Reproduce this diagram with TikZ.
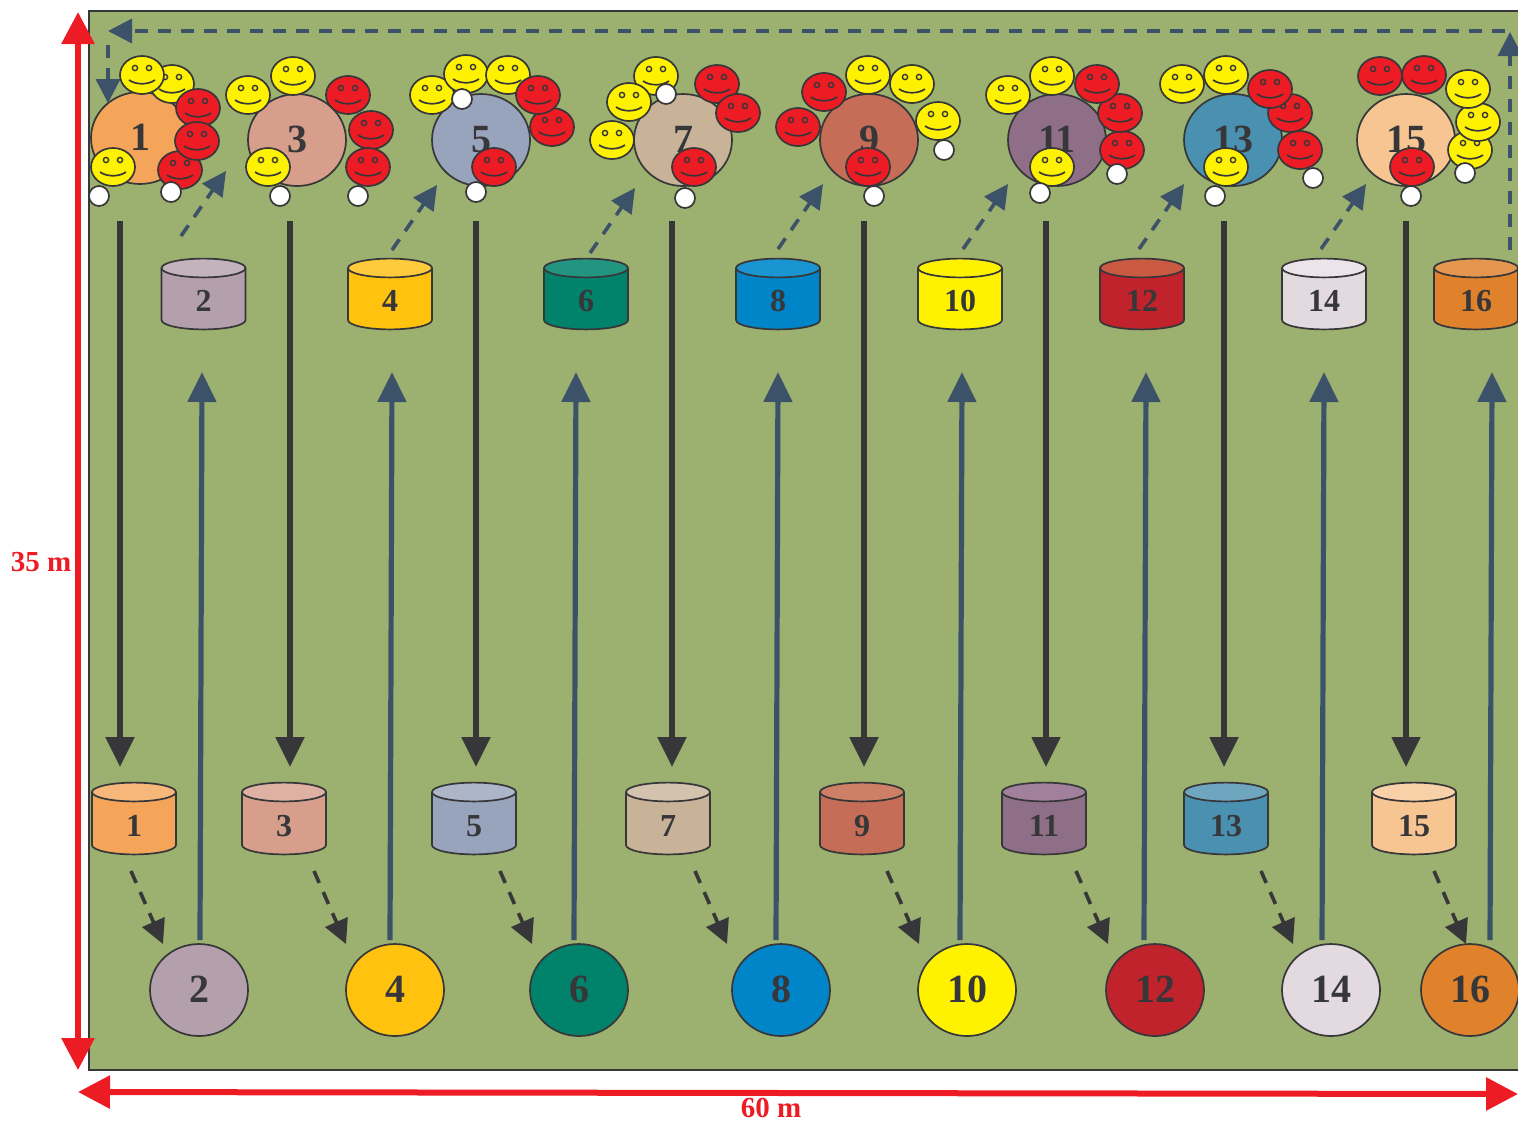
\documentclass[tikz,border=0pt]{standalone}
\usepackage{fontspec}
\setmainfont{Liberation Serif}
\usetikzlibrary{arrows.meta,shapes.geometric}
\definecolor{ink}{HTML}{373739}
\definecolor{slateb}{HTML}{3B5268}
\definecolor{field}{HTML}{9CB070}
\definecolor{redm}{HTML}{ED1C24}
\definecolor{yelf}{HTML}{FFF200}
\definecolor{toneA}{HTML}{F5A55A}
\definecolor{toneB}{HTML}{B3A0AC}
\definecolor{toneC}{HTML}{D69E8B}
\definecolor{toneD}{HTML}{FFC20E}
\definecolor{toneE}{HTML}{98A3BC}
\definecolor{toneF}{HTML}{00826B}
\definecolor{toneG}{HTML}{C8B398}
\definecolor{toneH}{HTML}{0085C8}
\definecolor{toneI}{HTML}{C56D57}
\definecolor{toneJ}{HTML}{FFF200}
\definecolor{toneK}{HTML}{8F6F87}
\definecolor{toneL}{HTML}{C0232C}
\definecolor{toneM}{HTML}{4A90B0}
\definecolor{toneN}{HTML}{E2DADF}
\definecolor{toneO}{HTML}{F6C592}
\definecolor{toneP}{HTML}{E0812B}
\colorlet{lidtoneA}{toneA!80!white}
\colorlet{lidtoneB}{toneB!80!white}
\colorlet{lidtoneC}{toneC!80!white}
\definecolor{lidtoneD}{HTML}{FFCB3C}
\colorlet{lidtoneE}{toneE!80!white}
\definecolor{lidtoneF}{HTML}{229580}
\colorlet{lidtoneG}{toneG!80!white}
\definecolor{lidtoneH}{HTML}{1A95D2}
\definecolor{lidtoneI}{HTML}{CE8066}
\definecolor{lidtoneJ}{HTML}{FFF200}
\definecolor{lidtoneK}{HTML}{A0809A}
\definecolor{lidtoneL}{HTML}{CB5A42}
\colorlet{lidtoneM}{toneM!80!white}
\colorlet{lidtoneN}{toneN!70!white}
\colorlet{lidtoneO}{toneO!80!white}
\definecolor{lidtoneP}{HTML}{E5964E}
\tikzset{
  x=0.5pt,y=-0.5pt,
  outl/.style={draw=ink,line width=0.85pt},
  station/.style={ellipse,outl,inner sep=0pt,minimum width=49pt,minimum height=46pt,text=ink,font=\bfseries\fontsize{20}{20}\selectfont},
  cyltext/.style={inner sep=0pt,text=ink,font=\bfseries\fontsize{16}{16}\selectfont},
  runline/.style={draw=ink,line width=2.6pt,-{Triangle[length=15pt,width=14pt]}},
  backline/.style={draw=slateb,line width=2.6pt,-{Triangle[length=15pt,width=14pt]}},
  dashlink/.style={line width=1.8pt,dash pattern=on 6.5pt off 5pt,-{Triangle[length=12pt,width=12pt]}},
  slatedash/.style={dashlink,draw=slateb},
  inkdash/.style={dashlink,draw=ink},
  dimline/.style={draw=redm,line width=3pt,{Triangle[length=16pt,width=16pt]}-{Triangle[length=16pt,width=16pt]}},
  dimtext/.style={inner sep=0pt,text=redm,font=\bfseries\fontsize{14.5}{14.5}\selectfont},
}
\newcommand{\drumshape}[5]{% name, x, top, bottom, colour
  \fill[fill=#5] (#2-42,#3+9) -- (#2-42,#4-9) arc[start angle=180,end angle=360,x radius=21pt,y radius=4.7pt] -- (#2+42,#3+9) arc[start angle=0,end angle=180,x radius=21pt,y radius=4.7pt] -- cycle;
  \draw[outl] (#2-42,#3+9) -- (#2-42,#4-9) arc[start angle=180,end angle=360,x radius=21pt,y radius=4.7pt] -- (#2+42,#3+9);
  \draw[outl,fill=lid#5] (#2,#3+9) ellipse[x radius=21pt,y radius=4.7pt];
  \coordinate (#1) at (#2,#4-29);
}
\newcommand{\faceat}[3]{%
  \begin{scope}[shift={(#1,#2)}]
    \draw[outl,fill=#3] (0,0) ellipse[x radius=11pt,y radius=9.5pt];
    \draw[draw=ink,line width=0.7pt,fill=#3] (-7,-7) circle[radius=1.3pt] (7,-7) circle[radius=1.3pt];
    \draw[draw=ink,line width=0.85pt] (-13,5) .. controls (-6,10) and (6,10) .. (13,5);
  \end{scope}
}
\begin{document}
\begin{tikzpicture}
\useasboundingbox (0,0) rectangle (1518,1121);
\draw[fill=field,draw=ink,line width=0.8pt] (89,11) rectangle (1530,1070);

% upper stations
\foreach \n/\x/\y/\c in {1/140/138/toneA,3/297/140/toneC,5/481/140/toneE,7/683/140/toneG,9/869/140/toneI,11/1057/140/toneK,13/1233/140/toneM,15/1406/140/toneO}
  \node[station,fill=\c] (top\n) at (\x,\y) {\raisebox{1pt}{\n}};
% lower stations
\foreach \n/\x/\c in {2/199/toneB,4/395/toneD,6/579/toneF,8/781/toneH,10/967/toneJ,12/1155/toneL,14/1331/toneN,16/1470/toneP}
  \node[station,fill=\c] (low\n) at (\x,990) {\raisebox{1pt}{\n}};
% upper drums
\foreach \n/\x/\c in {2/203.5/toneB,4/390/toneD,6/586/toneF,8/778/toneH,10/960/toneJ,12/1142/toneL,14/1324/toneN,16/1476/toneP}{
  \drumshape{drum\n}{\x}{259}{329}{\c}
  \node[cyltext] (drumlabel\n) at (\x,301) {\n};
}
% lower drums
\foreach \n/\x/\c in {1/134/toneA,3/284/toneC,5/474/toneE,7/668/toneG,9/862/toneI,11/1044/toneK,13/1226/toneM,15/1414/toneO}{
  \drumshape{drum\n}{\x}{783}{854}{\c}
  \node[cyltext] (drumlabel\n) at (\x,826) {\n};
}

% long runs down
\foreach \n/\x in {1/120,3/290,5/476,7/672,9/864,11/1046,13/1224,15/1406}{
  \coordinate (runs\n) at (\x,221);
  \coordinate (rune\n) at (\x,767);
  \draw[runline] (runs\n) -- (rune\n);
}
% long runs up
\foreach \n/\x in {2/200,4/390,6/574,8/776,10/960,12/1144,14/1322,16/1490}{
  \coordinate (backs\n) at (\x,940);
  \coordinate (backe\n) at (\x+2,372);
  \draw[backline] (backs\n) -- (backe\n);
}
% dashed up-right
\foreach \n/\x/\y in {2/181/236,4/392/250,6/590/253,8/778/249,10/963/249,12/1139/249,14/1321/249}{
  \coordinate (ups\n) at (\x,\y);
  \coordinate (upe\n) at (\x+45,\y-65);
  \draw[slatedash] (ups\n) -- (upe\n);
}
% dashed down-right
\foreach \n/\x in {1/131,3/314,5/500,7/695,9/887,11/1076,13/1261,15/1434}{
  \coordinate (dns\n) at (\x,871);
  \coordinate (dne\n) at (\x+32,944);
  \draw[inkdash] (dns\n) -- (dne\n);
}
% return loop
\coordinate (loopa) at (1510,250);
\coordinate (loopb) at (1510,32);
\coordinate (loopc) at (1505,31);
\coordinate (loopd) at (108,31);
\coordinate (loope) at (108,45);
\coordinate (loopf) at (108,103);
\draw[slatedash] (loopa) -- (loopb);
\draw[slatedash] (loopc) -- (loopd);
\draw[slatedash] (loope) -- (loopf);

% faces, in stacking order
\foreach \x/\y/\c in {
  172/84/yelf,142/75/yelf,180/170/redm,198/108/redm,197/141/redm,113/167/yelf,
  248/95/yelf,293/76/yelf,348/95/redm,371/130/redm,368/167/redm,268/167/yelf,
  432/95/yelf,466/74/yelf,508/75/yelf,552/127/redm,538/95/redm,494/167/redm,
  656/76/yelf,629/102/yelf,612/140/yelf,717/84/redm,738/113/redm,694/167/redm,
  824/92/redm,798/127/redm,868/75/yelf,912/84/yelf,938/121/yelf,868/167/redm,
  1008/95/yelf,1052/76/yelf,1122/150/redm,1120/113/redm,1097/84/redm,1052/167/yelf,
  1182/84/yelf,1226/75/yelf,1290/113/redm,1270/89/redm,1300/150/redm,1226/167/yelf,
  1380/76/redm,1424/75/redm,1470/150/yelf,1478/122/yelf,1468/89/yelf,1412/167/redm}
  {\faceat{\x}{\y}{\c}}

% white markers
\foreach \x/\y in {99/196,171/192,280/196,358/196,462/99,476/192,666/94,685/198,944/150,874/196,1117/174,1040/193,1313/178,1215/196,1465/173,1411/196}
  \draw[outl,fill=white] (\x,\y) circle[radius=5pt];

% dimensions
\coordinate (dimva) at (78,12);
\coordinate (dimvb) at (78,1070);
\coordinate (dimha) at (78,1092);
\coordinate (dimhb) at (1518,1094);
\draw[dimline] (dimva) -- (dimvb);
\draw[dimline] (dimha) -- (dimhb);
\node[dimtext] (labv) at (41,562) {35 m};
\node[dimtext] (labh) at (771,1108) {60 m};
\end{tikzpicture}
\end{document}
